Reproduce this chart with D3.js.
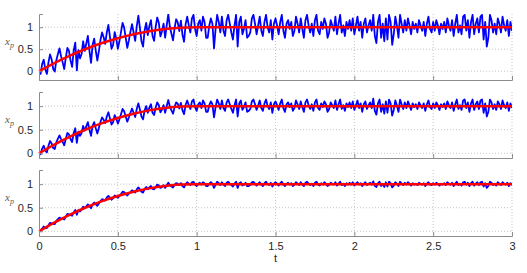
<!DOCTYPE html>
<html>
<head>
<meta charset="utf-8">
<script src="https://cdn.jsdelivr.net/npm/d3@7"></script>
<style>
	body { margin: 0; background: #fff; }
	.tick-label { font-family: "Liberation Sans", Arial, sans-serif; font-size: 11px; fill: #262626; }
	.y-title { font-family: "Liberation Serif", "DejaVu Serif", serif; font-style: italic; fill: #5a5a5a; }
</style>
</head>
<body>
<div id="chart"></div>
<script>
// sample step of the recorded signals
const STEP = 0.01;

const xTicks = [0, 0.5, 1, 1.5, 2, 2.5, 3];
const xTickLabels = ['0', '0.5', '1', '1.5', '2', '2.5', '3'];
const yTicks = [0, 0.5, 1];
const yTickLabels = ['0', '0.5', '1'];

// reference trajectory (red)
const refT = [0, 0.1, 0.2, 0.3, 0.4, 0.5, 0.6, 0.7, 0.8, 0.9, 1, 3];
const refX = [0, 0.19, 0.36, 0.51, 0.64, 0.75, 0.84, 0.91, 0.96, 0.99, 1, 1];

// measured x_p (blue), one series per panel, 10 samples per row
const xpTop = [
	0.04, -0.06, 0.16, 0.26, 0.04, -0.06, 0.20, 0.38, 0.27, 0.05,
	-0.01, 0.25, 0.39, 0.52, 0.34, 0.20, 0.05, 0.31, 0.53, 0.46,
	0.24, 0.10, 0.47, 0.65, 0.02, 0.48, 0.29, 0.39, 0.68, 0.46,
	0.63, 0.80, 0.46, 0.19, 0.60, 0.74, 0.47, 0.24, 0.46, 0.71,
	0.88, 0.77, 0.62, 0.88, 1.05, 0.78, 0.51, 0.60, 0.89, 0.74,
	0.51, 0.68, 0.89, 1.10, 0.99, 0.76, 0.53, 0.70, 0.90, 1.07,
	0.88, 0.69, 1.02, 1.26, 0.99, 0.68, 0.56, 0.93, 1.10, 0.82,
	1.03, 1.16, 0.80, 0.69, 1.01, 1.22, 1.10, 0.79, 0.91, 1.08,
	0.76, 1.04, 1.29, 1.01, 0.85, 0.70, 0.98, 1.18, 1.11, 0.91,
	1.15, 0.83, 0.67, 1.07, 1.24, 1.04, 0.88, 1.20, 1.28, 0.96,
	0.80, 1.08, 1.16, 0.92, 1.24, 1.12, 0.76, 0.76, 1.04, 1.20,
	1.08, 0.52, 0.96, 1.28, 1.12, 0.88, 1.24, 0.92, 0.80, 1.16,
	1.28, 1.08, 0.88, 0.72, 1.04, 1.28, 0.56, 1.12, 1.24, 0.84,
	0.96, 1.16, 0.76, 0.80, 0.88, 1.20, 1.28, 1.08, 0.84, 1.04,
	1.24, 0.92, 0.80, 1.12, 1.28, 1.00, 0.88, 1.16, 0.72, 1.08,
	1.20, 1.04, 0.84, 1.12, 1.28, 0.92, 0.76, 1.08, 1.16, 0.96,
	1.12, 0.80, 0.92, 1.24, 1.08, 0.88, 1.20, 0.96, 0.76, 1.16,
	1.28, 1.04, 0.88, 1.08, 0.80, 1.16, 1.28, 0.92, 0.84, 1.12,
	0.96, 1.20, 1.08, 0.76, 0.88, 1.16, 1.04, 0.92, 1.24, 0.84,
	1.08, 1.28, 0.88, 1.04, 0.80, 1.12, 0.96, 1.16, 0.92, 1.20,
	0.84, 1.04, 1.24, 0.92, 1.12, 0.76, 1.08, 1.20, 0.88, 1.04,
	1.16, 0.92, 1.28, 0.80, 0.64, 1.12, 1.28, 0.76, 1.08, 0.68,
	1.20, 0.72, 1.28, 1.12, 0.60, 0.84, 1.24, 1.04, 0.76, 1.28,
	1.08, 0.88, 1.16, 0.92, 1.20, 1.04, 0.84, 1.12, 0.96, 1.08,
	0.88, 1.16, 1.04, 0.92, 1.12, 0.80, 1.08, 1.24, 0.96, 0.88,
	1.12, 0.92, 1.16, 1.04, 0.84, 1.08, 0.96, 1.12, 0.88, 1.20,
	1.04, 0.92, 1.16, 0.80, 1.08, 1.28, 0.88, 1.04, 0.84, 1.24,
	1.28, 0.92, 1.16, 0.76, 1.12, 1.28, 0.84, 1.08, 1.20, 0.88,
	1.24, 1.28, 0.72, 1.12, 0.56, 0.76, 1.28, 1.16, 0.88, 1.08,
	0.84, 1.20, 1.08, 0.88, 1.24, 1.04, 0.92, 1.16, 0.80, 1.12,
	0.92
];
const xpMid = [
	0.02, -0.02, 0.10, 0.16, 0.06, 0.02, 0.16, 0.26, 0.21, 0.11,
	0.09, 0.23, 0.31, 0.38, 0.30, 0.24, 0.17, 0.31, 0.43, 0.40,
	0.30, 0.24, 0.43, 0.53, 0.22, 0.46, 0.37, 0.43, 0.58, 0.48,
	0.57, 0.66, 0.50, 0.37, 0.58, 0.66, 0.53, 0.42, 0.54, 0.67,
	0.76, 0.71, 0.64, 0.78, 0.87, 0.74, 0.61, 0.66, 0.81, 0.74,
	0.63, 0.72, 0.83, 0.94, 0.89, 0.78, 0.67, 0.76, 0.86, 0.95,
	0.86, 0.77, 0.94, 1.06, 0.93, 0.78, 0.72, 0.91, 1.00, 0.86,
	0.97, 1.04, 0.86, 0.81, 0.97, 1.08, 1.02, 0.87, 0.93, 1.02,
	0.86, 1.00, 1.13, 0.99, 0.91, 0.84, 0.98, 1.08, 1.05, 0.95,
	1.07, 0.91, 0.83, 1.03, 1.12, 1.02, 0.94, 1.10, 1.14, 0.98,
	0.90, 1.04, 1.08, 0.96, 1.12, 1.06, 0.88, 0.88, 1.02, 1.10,
	1.04, 0.76, 0.98, 1.14, 1.06, 0.94, 1.12, 0.96, 0.90, 1.08,
	1.14, 1.04, 0.94, 0.86, 1.02, 1.14, 0.78, 1.06, 1.12, 0.92,
	0.98, 1.08, 0.88, 0.90, 0.94, 1.10, 1.14, 1.04, 0.92, 1.02,
	1.12, 0.96, 0.90, 1.06, 1.14, 1.00, 0.94, 1.08, 0.86, 1.04,
	1.10, 1.02, 0.92, 1.06, 1.14, 0.96, 0.88, 1.04, 1.08, 0.98,
	1.06, 0.90, 0.96, 1.12, 1.04, 0.94, 1.10, 0.98, 0.88, 1.08,
	1.14, 1.02, 0.94, 1.04, 0.90, 1.08, 1.14, 0.96, 0.92, 1.06,
	0.98, 1.10, 1.04, 0.88, 0.94, 1.08, 1.02, 0.96, 1.12, 0.92,
	1.04, 1.14, 0.94, 1.02, 0.90, 1.06, 0.98, 1.08, 0.96, 1.10,
	0.92, 1.02, 1.12, 0.96, 1.06, 0.88, 1.04, 1.10, 0.94, 1.02,
	1.08, 0.96, 1.16, 0.90, 0.82, 1.06, 1.14, 0.88, 1.04, 0.84,
	1.10, 0.86, 1.14, 1.06, 0.80, 0.92, 1.12, 1.02, 0.88, 1.14,
	1.04, 0.94, 1.08, 0.96, 1.10, 1.02, 0.92, 1.06, 0.98, 1.04,
	0.94, 1.08, 1.02, 0.96, 1.06, 0.90, 1.04, 1.12, 0.98, 0.94,
	1.06, 0.96, 1.08, 1.02, 0.92, 1.04, 0.98, 1.06, 0.94, 1.10,
	1.02, 0.96, 1.08, 0.90, 1.04, 1.14, 0.94, 1.02, 0.92, 1.12,
	1.14, 0.96, 1.08, 0.88, 1.06, 1.14, 0.92, 1.04, 1.10, 0.94,
	1.12, 1.14, 0.86, 1.06, 0.78, 0.88, 1.14, 1.08, 0.94, 1.04,
	0.92, 1.10, 1.04, 0.94, 1.12, 1.02, 0.96, 1.08, 0.90, 1.06,
	0.96
];
const xpBottom = [
	0.01, 0.01, 0.06, 0.10, 0.07, 0.07, 0.13, 0.18, 0.17, 0.15,
	0.15, 0.22, 0.26, 0.29, 0.27, 0.27, 0.25, 0.31, 0.37, 0.36,
	0.34, 0.33, 0.40, 0.45, 0.35, 0.45, 0.42, 0.46, 0.52, 0.49,
	0.53, 0.57, 0.53, 0.49, 0.57, 0.61, 0.57, 0.54, 0.59, 0.64,
	0.68, 0.67, 0.65, 0.72, 0.75, 0.71, 0.67, 0.70, 0.76, 0.74,
	0.71, 0.75, 0.79, 0.84, 0.83, 0.79, 0.76, 0.80, 0.83, 0.87,
	0.85, 0.82, 0.89, 0.93, 0.89, 0.84, 0.82, 0.90, 0.94, 0.89,
	0.93, 0.96, 0.90, 0.89, 0.94, 0.99, 0.97, 0.92, 0.94, 0.98,
	0.92, 0.97, 1.03, 0.98, 0.95, 0.93, 0.98, 1.02, 1.01, 0.98,
	1.02, 0.96, 0.93, 1.00, 1.04, 1.01, 0.98, 1.04, 1.05, 0.99,
	0.96, 1.01, 1.03, 0.99, 1.04, 1.02, 0.96, 0.96, 1.01, 1.04,
	1.01, 0.92, 0.99, 1.05, 1.02, 0.98, 1.04, 0.99, 0.96, 1.03,
	1.05, 1.01, 0.98, 0.95, 1.01, 1.05, 0.92, 1.02, 1.04, 0.97,
	0.99, 1.03, 0.96, 0.96, 0.98, 1.04, 1.05, 1.01, 0.97, 1.01,
	1.04, 0.99, 0.96, 1.02, 1.05, 1.00, 0.98, 1.03, 0.95, 1.01,
	1.04, 1.01, 0.97, 1.02, 1.05, 0.99, 0.96, 1.01, 1.03, 0.99,
	1.02, 0.96, 0.99, 1.04, 1.01, 0.98, 1.04, 0.99, 0.96, 1.03,
	1.05, 1.01, 0.98, 1.01, 0.96, 1.03, 1.05, 0.99, 0.97, 1.02,
	0.99, 1.04, 1.01, 0.96, 0.98, 1.03, 1.01, 0.99, 1.04, 0.97,
	1.01, 1.05, 0.98, 1.01, 0.96, 1.02, 0.99, 1.03, 0.99, 1.04,
	0.97, 1.01, 1.04, 0.99, 1.02, 0.96, 1.01, 1.04, 0.98, 1.01,
	1.03, 0.99, 1.06, 0.96, 0.94, 1.02, 1.05, 0.96, 1.01, 0.94,
	1.04, 0.95, 1.05, 1.02, 0.93, 0.97, 1.04, 1.01, 0.96, 1.05,
	1.01, 0.98, 1.03, 0.99, 1.04, 1.01, 0.97, 1.02, 0.99, 1.01,
	0.98, 1.03, 1.01, 0.99, 1.02, 0.96, 1.01, 1.04, 0.99, 0.98,
	1.02, 0.99, 1.03, 1.01, 0.97, 1.01, 0.99, 1.02, 0.98, 1.04,
	1.01, 0.99, 1.03, 0.96, 1.01, 1.05, 0.98, 1.01, 0.97, 1.04,
	1.05, 0.99, 1.03, 0.96, 1.02, 1.05, 0.97, 1.01, 1.04, 0.98,
	1.04, 1.05, 0.95, 1.02, 0.92, 0.96, 1.05, 1.03, 0.98, 1.01,
	0.97, 1.04, 1.01, 0.98, 1.04, 1.01, 0.99, 1.03, 0.96, 1.02,
	0.99
];

const panels = [
	{ series: xpTop, yDomain: [-0.2, 1.3], top: 14 },
	{ series: xpMid, yDomain: [-0.1, 1.3], top: 92 },
	{ series: xpBottom, yDomain: [-0.1, 1.3], top: 170 }
];

const width = 527;
const height = 273;
const left = 39;
const right = 512;
const panelHeight = 66;

const svg = d3.select('#chart').append('svg')
	.attr('width', width)
	.attr('height', height);

const x = d3.scaleLinear().domain([0, 3]).range([left, right]);

/**
 * @param {Object} panel
 * @param {number} index
 */
function drawPanel(panel, index) {
	const y = d3.scaleLinear()
		.domain(panel.yDomain)
		.range([panel.top + panelHeight, panel.top]);
	const g = svg.append('g');
	const bottom = panel.top + panelHeight;

	// dotted grid
	g.append('g').selectAll('line')
		.data(xTicks.slice(1))
		.join('line')
		.attr('x1', d => x(d)).attr('x2', d => x(d))
		.attr('y1', panel.top).attr('y2', bottom)
		.attr('stroke', '#c4c4c4')
		.attr('stroke-dasharray', '1,2');
	g.append('g').selectAll('line')
		.data(yTicks)
		.join('line')
		.attr('x1', left).attr('x2', right)
		.attr('y1', d => y(d)).attr('y2', d => y(d))
		.attr('stroke', '#c4c4c4')
		.attr('stroke-dasharray', '1,2');

	const clipId = 'clip' + index;
	svg.append('clipPath').attr('id', clipId)
		.append('rect')
		.attr('x', left).attr('y', panel.top)
		.attr('width', right - left).attr('height', panelHeight);

	const time = panel.series.map((v, i) => i * STEP);
	const blueLine = d3.line()
		.x((v, i) => x(time[i]))
		.y(v => y(v));
	g.append('path')
		.datum(panel.series)
		.attr('clip-path', `url(#${clipId})`)
		.attr('d', blueLine)
		.attr('fill', 'none')
		.attr('stroke', '#0000ff')
		.attr('stroke-width', 1.8)
		.attr('stroke-linejoin', 'round');

	const redLine = d3.line()
		.x((v, i) => x(refT[i]))
		.y(v => y(v))
		.curve(d3.curveMonotoneX);
	g.append('path')
		.datum(refX)
		.attr('d', redLine)
		.attr('fill', 'none')
		.attr('stroke', '#ff0000')
		.attr('stroke-width', 2.5);

	// axes: ticks point inward, like the original
	const yAxis = g.append('g')
		.attr('transform', `translate(${left},0)`)
		.call(d3.axisLeft(y).tickValues(yTicks).tickSize(-4).tickPadding(6)
			.tickFormat((d, i) => yTickLabels[i]));
	const xAxis = g.append('g')
		.attr('transform', `translate(0,${bottom})`)
		.call(d3.axisBottom(x).tickValues(xTicks).tickSize(-4).tickPadding(6)
			.tickFormat((d, i) => index === 2 ? xTickLabels[i] : ''));

	[yAxis, xAxis].forEach(a => {
		a.select('.domain').attr('stroke', '#8c8c8c').attr('stroke-width', 1);
		a.selectAll('.tick line').attr('stroke', '#8c8c8c');
		a.selectAll('.tick text').attr('class', 'tick-label').attr('font-size', null).attr('font-family', null).attr('fill', null);
	});

	const title = g.append('text')
		.attr('class', 'y-title')
		.attr('x', 5)
		.attr('y', panel.top + panelHeight / 2 - 2)
		.attr('font-size', 11);
	title.append('tspan').text('x');
	title.append('tspan').attr('font-size', 8).attr('dy', 3).text('p');
}

panels.forEach(drawPanel);

svg.append('text')
	.attr('class', 'tick-label')
	.attr('x', (left + right) / 2)
	.attr('y', 262)
	.attr('text-anchor', 'middle')
	.text('t');
</script>
</body>
</html>
